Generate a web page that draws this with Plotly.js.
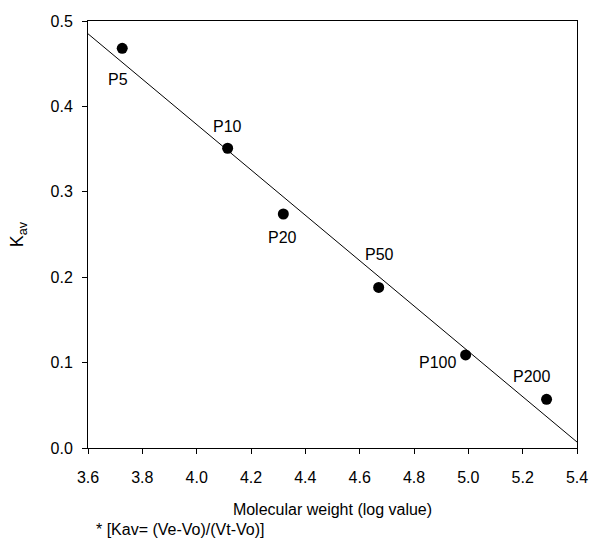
<!DOCTYPE html>
<html>
<head>
<meta charset="utf-8">
<script src="https://cdn.plot.ly/plotly-3.0.1.min.js"></script>
<style>html,body{margin:0;padding:0;background:#fff;}#chart{width:591px;height:545px;}</style>
</head>
<body>
<div id="chart"></div>
<script>
// Data
const labels = ["P5", "P10", "P20", "P50", "P100", "P200"];
const logMW = [3.726, 4.114, 4.319, 4.670, 4.990, 5.288];
const kav = [0.468, 0.351, 0.274, 0.188, 0.109, 0.057];
const fitX = [3.6, 5.4];
const fitY = [0.485, 0.007];
const xTicks = [3.6, 3.8, 4.0, 4.2, 4.4, 4.6, 4.8, 5.0, 5.2, 5.4];
const yTicks = [0.0, 0.1, 0.2, 0.3, 0.4, 0.5];

// Label offsets (pixels) - styling
const labelShiftX = [-4, 0, -1, 1, -28, -15];
const labelShiftY = [-31, 22, -23, 33, -8, 23];

const font = {family: "Arial, 'Liberation Sans', sans-serif", color: "#000"};

const traces = [
  {x: fitX, y: fitY, mode: "lines", line: {color: "#000", width: 1}, hoverinfo: "skip", showlegend: false},
  {x: logMW, y: kav, mode: "markers", marker: {color: "#000", size: 11}, showlegend: false}
];

const annotations = labels.map((t, i) => ({
  x: logMW[i], y: kav[i], xref: "x", yref: "y", text: t, showarrow: false,
  xshift: labelShiftX[i], yshift: labelShiftY[i],
  font: Object.assign({size: 16}, font)
}));
annotations.push({
  xref: "paper", yref: "paper", x: 0.012, y: -0.192, xanchor: "left", yanchor: "middle",
  text: "* [Kav= (Ve-Vo)/(Vt-Vo)]", showarrow: false, font: Object.assign({size: 16}, font)
});

const layout = {
  width: 591, height: 545,
  margin: {l: 88, r: 14, t: 21, b: 97},
  paper_bgcolor: "#fff", plot_bgcolor: "#fff",
  font: Object.assign({size: 16}, font),
  xaxis: {
    range: [3.6, 5.4], tickvals: xTicks, ticktext: xTicks.map(v => v.toFixed(1)),
    ticks: "outside", ticklen: 5, tickwidth: 1, tickcolor: "#000", ticklabelstandoff: 10,
    showline: true, linecolor: "#000", linewidth: 1, mirror: true,
    showgrid: false, zeroline: false,
    tickfont: Object.assign({size: 16}, font),
    title: {text: "Molecular weight (log value)", font: Object.assign({size: 16}, font), standoff: 18}
  },
  yaxis: {
    range: [0, 0.5], tickvals: yTicks, ticktext: yTicks.map(v => v.toFixed(1)),
    ticks: "outside", ticklen: 5, tickwidth: 1, tickcolor: "#000", ticklabelstandoff: 6,
    showline: true, linecolor: "#000", linewidth: 1, mirror: true,
    showgrid: false, zeroline: false,
    tickfont: Object.assign({size: 16}, font),
    title: {text: "K<sub>av</sub>", font: Object.assign({size: 18}, font), standoff: 22}
  },
  annotations: annotations
};

Plotly.newPlot("chart", traces, layout, {staticPlot: true});
</script>
</body>
</html>
